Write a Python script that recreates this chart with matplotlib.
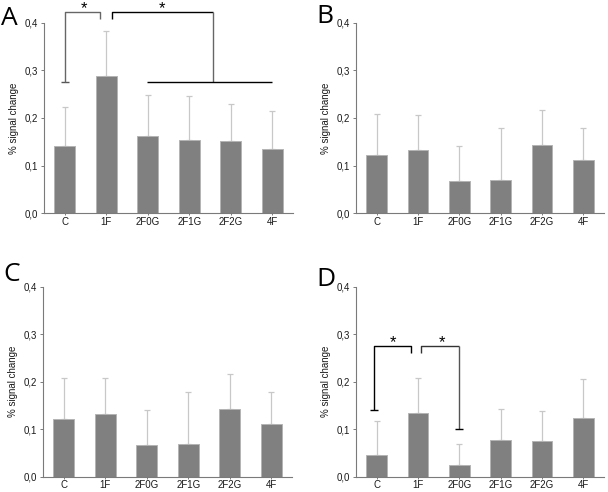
import matplotlib
matplotlib.use('Agg')
import matplotlib.pyplot as plt
from matplotlib.ticker import FuncFormatter
import numpy as np

plt.rcParams['font.family'] = ['Liberation Sans', 'DejaVu Sans']

categories = ['C', '1F', '2F0G', '2F1G', '2F2G', '4F']

a_mean = [0.141, 0.289, 0.162, 0.154, 0.152, 0.135]
a_err = [0.083, 0.094, 0.087, 0.093, 0.078, 0.079]

b_mean = [0.122, 0.133, 0.067, 0.070, 0.143, 0.112]
b_err = [0.086, 0.074, 0.074, 0.108, 0.073, 0.066]

c_mean = [0.122, 0.133, 0.067, 0.070, 0.143, 0.112]
c_err = [0.086, 0.074, 0.074, 0.108, 0.073, 0.066]

d_mean = [0.046, 0.134, 0.024, 0.077, 0.075, 0.124]
d_err = [0.071, 0.073, 0.046, 0.066, 0.064, 0.082]

yticks = [0.0, 0.1, 0.2, 0.3, 0.4]

bar_color = '#808080'
err_color = '#c8c8c8'
spine_color = '#7a7a7a'


def draw_panel(ax, mean, err):
    x = np.arange(len(categories))
    ax.errorbar(x, mean, yerr=[np.zeros(len(err)), err], fmt='none',
                ecolor=err_color, elinewidth=0.9, capsize=2, capthick=0.9, zorder=1)
    ax.bar(x, mean, width=0.5, color=bar_color, edgecolor='#b4b4b4',
           linewidth=0.7, zorder=2)
    ax.set_xlim(-0.5, 5.5)
    ax.set_ylim(0, 0.4)
    ax.set_xticks(x)
    ax.set_xticklabels(categories)
    ax.set_yticks(yticks)
    ax.yaxis.set_major_formatter(FuncFormatter(lambda v, p: ('%.1f' % v).replace('.', ',')))
    ax.spines['top'].set_visible(False)
    ax.spines['right'].set_visible(False)
    for s in ['left', 'bottom']:
        ax.spines[s].set_color(spine_color)
        ax.spines[s].set_linewidth(0.8)
    ax.tick_params(axis='both', colors=spine_color, labelcolor='#1a1a1a',
                   labelsize=7, width=0.7)
    ax.tick_params(axis='y', length=2.5, pad=2)
    ax.tick_params(axis='x', length=1.5, pad=1)
    ax.set_ylabel('% signal change', fontsize=7, color='#1a1a1a', labelpad=4)


def line(ax, xs, ys, color='black'):
    ax.plot(xs, ys, color=color, linewidth=1.0, clip_on=False, zorder=3,
            solid_capstyle='butt')


def star(ax, x, y):
    ax.text(x, y, '*', ha='center', va='center', fontsize=12, clip_on=False)


fig = plt.figure(figsize=(6.08, 4.92), dpi=100)

ax_a = fig.add_axes([0.0724, 0.5665, 0.4095, 0.3874])
ax_b = fig.add_axes([0.5855, 0.5665, 0.408, 0.3874])
ax_c = fig.add_axes([0.0707, 0.031, 0.4095, 0.386])
ax_d = fig.add_axes([0.5855, 0.031, 0.408, 0.386])

draw_panel(ax_a, a_mean, a_err)
draw_panel(ax_b, b_mean, b_err)
draw_panel(ax_c, c_mean, c_err)
draw_panel(ax_d, d_mean, d_err)

# significance brackets, panel A
line(ax_a, [-0.1, 0.1], [0.275, 0.275], '#555555')
line(ax_a, [0, 0, 0.85, 0.85], [0.275, 0.4225, 0.4225, 0.408], '#666666')
star(ax_a, 0.47, 0.429)
line(ax_a, [1.14, 1.14, 3.57], [0.408, 0.4225, 0.4225])
line(ax_a, [3.57, 3.57], [0.4225, 0.275], '#666666')
line(ax_a, [1.98, 4.99], [0.275, 0.275])
star(ax_a, 2.34, 0.429)

# significance brackets, panel D
line(ax_d, [-0.17, 0.03], [0.14, 0.14])
line(ax_d, [-0.07, -0.07, 0.82, 0.82], [0.14, 0.276, 0.276, 0.26])
star(ax_d, 0.39, 0.283)
line(ax_d, [1.07, 1.07, 1.99], [0.26, 0.276, 0.276], '#333333')
line(ax_d, [1.99, 1.99], [0.276, 0.1], '#555555')
line(ax_d, [1.89, 2.09], [0.1, 0.1])
star(ax_d, 1.57, 0.283)

# panel letters
letter_kw = dict(fontsize=19, family=['Open Sans', 'DejaVu Sans'], va='baseline', ha='left')
fig.text(1 / 608, 1 - 25 / 492, 'A', **letter_kw)
fig.text(316 / 608, 1 - 23 / 492, 'B', **letter_kw)
fig.text(3 / 608, 1 - 281 / 492, 'C', **letter_kw)
fig.text(316 / 608, 1 - 286 / 492, 'D', **letter_kw)

fig.savefig('out.png', dpi=100)
